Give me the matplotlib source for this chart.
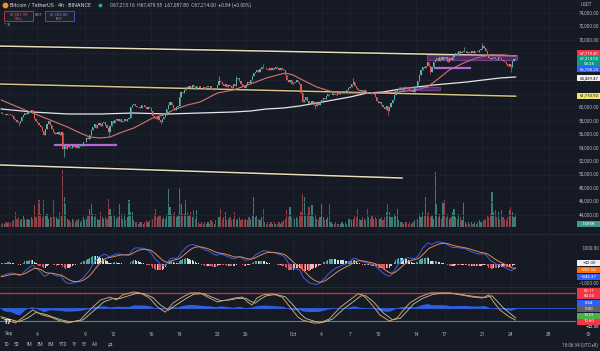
import numpy as np
import pandas as pd
import matplotlib
matplotlib.use('Agg')
import matplotlib.pyplot as plt
from matplotlib.patches import Rectangle

plt.rcParams['font.family'] = ['Roboto', 'DejaVu Sans']

# ---------------- data (BTC/USDT 4h, Aug 31 04:00 -> Oct 24 12:00, UTC+8) ----------------
first_open = 59300
closes = [
    59150, 58980, 59060, 58920, 58990,
    58950, 58800, 58650, 58300, 58050, 57750,
    57600, 57900, 58500, 58900, 59200, 59050,
    59250, 59450, 59600, 59100, 58300, 57900,
    57600, 57300, 57000, 56500, 55900, 56800,
    57500, 57900, 57400, 56800, 56300, 56100,
    56100, 56300, 55900, 56400, 53800, 54200,
    53800, 54300, 54100, 54000, 54400, 54100,
    54200, 53900, 54300, 54500, 54200, 54800,
    54900, 55400, 55300, 55900, 56600, 57100,
    57500, 56900, 57300, 57700, 57200, 57600,
    57800, 57300, 56900, 56400, 57200, 57900,
    57700, 58100, 58300, 57900, 58200, 57800,
    58000, 58200, 57900, 58300, 58400, 60100,
    60300, 60500, 60200, 60000, 60100, 59900,
    60300, 60400, 60100, 59800, 60100, 59900,
    59400, 58700, 58400, 58200, 58600, 58100,
    57800, 58200, 58500, 58900, 59700, 60400,
    60800, 60300, 59900, 59600, 60000, 60200,
    61600, 62300, 62100, 62500, 63000, 62900,
    63200, 62900, 63300, 63000, 62700, 63200,
    63100, 62800, 62900, 63000, 62700, 63000,
    63200, 63100, 62800, 62600, 62900, 62700,
    63300, 63900, 63700, 63500, 63200, 63400,
    63000, 63300, 63100, 62900, 63400, 63200,
    64200, 64400, 63900, 63500, 63100, 62800,
    63300, 63800, 63600, 64000, 64700, 65100,
    65300, 65500, 65200, 65700, 66000, 65800,
    65900, 65700, 65600, 65800, 65500, 65900,
    65700, 66000, 65800, 65600, 65900, 65700,
    65500, 64800, 64000, 63700, 64000, 63500,
    63600, 63800, 64100, 63700, 63500, 62100,
    60800, 61100, 61600, 61000, 60500, 60700,
    60900, 60400, 60200, 60600, 60300, 60800,
    61100, 61400, 61200, 61700, 62000, 61800,
    61900, 62100, 62000, 61900, 62200, 62000,
    62100, 62300, 62400, 62200, 62500, 62800,
    63000, 63400, 63700, 63200, 62800, 62500,
    62400, 62500, 62200, 62600, 62300, 62100,
    62300, 62200, 62000, 62100, 61600, 61000,
    60600, 60800, 60300, 60100, 59800, 60200,
    59400, 60000, 60700, 61100, 61900, 62400,
    62500, 62700, 62900, 62600, 62800, 63000,
    62900, 62700, 62400, 62600, 62300, 62800,
    63200, 63900, 64800, 65600, 66000, 65800,
    66200, 66800, 66100, 65200, 66000, 66700,
    67100, 67300, 66900, 67400, 67100, 67500,
    67200, 67500, 66800, 67300, 67000, 67400,
    67700, 68100, 67800, 68300, 68000, 68200,
    68300, 68400, 68100, 68200, 68000, 68300,
    68100, 68300, 68400, 68200, 68500, 68700,
    69100, 68800, 68300, 67800, 67300, 67200,
    67300, 67500, 67200, 67000, 67400, 67300,
    67100, 66900, 66700, 66500, 66200, 66400,
    66000, 66900, 67213, 67214,
]
volumes_k = [
    2, 2.5, 2, 3, 2.5,
    3, 2.5, 3.5, 4, 9, 5,
    6, 4, 5, 7, 5, 4,
    5, 4, 6, 5, 13, 6,
    7, 16, 8, 6, 16, 7,
    8, 5, 6, 6, 16, 6,
    6, 5, 9, 7, 34, 18,
    14, 5, 4, 3, 5, 4,
    3, 4, 5, 3, 4, 6,
    4, 5, 7, 11, 14, 8,
    6, 8, 5, 4, 9, 6,
    5, 6, 5, 17, 11, 7,
    11, 7, 5, 6, 14, 8,
    5, 8, 4, 6, 16, 9,
    9, 4, 3, 3, 2, 3,
    3, 2, 3, 4, 3, 4,
    7, 5, 8, 11, 6, 7,
    7, 5, 6, 5, 8, 23,
    12, 8, 8, 9, 6, 7,
    23, 14, 8, 8, 16, 9,
    7, 9, 6, 10, 5, 10,
    3, 2, 3, 2, 3, 2,
    3, 2, 4, 3, 2, 4,
    5, 6, 11, 5, 6, 9,
    4, 5, 6, 4, 5, 9,
    4, 5, 6, 4, 5, 4,
    5, 4, 6, 5, 7, 18,
    6, 7, 5, 4, 6, 11,
    3, 2, 3, 2, 3, 2,
    3, 2, 2, 3, 2, 3,
    4, 5, 10, 6, 12, 6,
    8, 5, 6, 5, 7, 9,
    20, 18, 7, 8, 12, 7,
    13, 6, 8, 5, 4, 6,
    14, 6, 4, 5, 6, 14,
    3, 2, 2, 3, 2, 2,
    2, 3, 2, 3, 2, 5,
    5, 4, 5, 7, 6, 11,
    5, 4, 6, 5, 4, 11,
    6, 5, 7, 5, 6, 5,
    8, 5, 6, 4, 6, 9,
    14, 9, 6, 6, 8, 7,
    11, 4, 3, 3, 2, 3,
    3, 2, 3, 2, 3, 4,
    4, 5, 8, 6, 9, 7,
    18, 8, 9, 6, 7, 5,
    33, 14, 6, 8, 5, 15,
    16, 6, 8, 5, 6, 9,
    11, 6, 5, 8, 6, 4,
    15, 3, 2, 3, 2, 3,
    2, 3, 2, 3, 4, 3,
    3, 4, 5, 7, 6, 8,
    21, 9, 10, 6, 9, 5,
    10, 6, 5, 4, 6, 10,
    12, 9, 6, 7.7,
]
wick_high = {138: 64700, 149: 64700, 166: 66500, 223: 64400, 293: 68900, 305: 69500}
wick_low = {11: 57200, 40: 52550, 68: 55600, 101: 57500, 199: 59800, 245: 58900,
            272: 64900, 323: 65260}

# moving averages (candle index, price)
ma_red_idx = [0, 12, 20, 31, 42, 50, 56, 63, 69, 75, 84, 90, 96, 103, 109, 118, 126, 137,
              147, 158, 168, 180, 185, 191, 200, 208, 217, 227, 242, 251, 263, 270, 276,
              284, 293, 301, 310, 318, 326]
ma_red_val = [61084, 59895, 59152, 58112, 57072, 56180, 55586, 55437, 55586, 56180, 56923,
              57666, 58409, 58855, 59598, 60341, 60787, 62124, 62570, 63462, 64353, 65096,
              64799, 64056, 63016, 62421, 62124, 62124, 62124, 62273, 62570, 63016, 64056,
              65542, 66582, 67325, 67771, 67771, 67622]
ma_white_idx = [0, 20, 42, 63, 84, 105, 126, 147, 158, 168, 179, 189, 200, 221, 232, 242,
                253, 274, 295, 316, 326]
ma_white_val = [59747, 59301, 59004, 59004, 59152, 59004, 59152, 59301, 59449, 59747, 59895,
                60192, 60638, 61530, 62124, 62273, 62719, 63313, 63759, 64353, 64502]

# stochastic lines (candle index, value 0-100)
stoch_k_idx = [0, 4, 9, 15, 20, 26, 31, 36, 42, 50, 58, 63, 69, 73, 77, 84, 88, 94, 99, 104,
               109, 115, 120, 126, 132, 137, 143, 148, 153, 156, 159, 162, 166, 172, 178, 183,
               188, 191, 198, 202, 208, 215, 221, 226, 229, 234, 240, 246, 251, 255, 259, 265,
               272, 278, 284, 291, 299, 305, 309, 312, 316, 322, 326]
stoch_k_val = [16, 9, 0, 22, 41, 25, 19, 9, 0, 9, 50, 72, 81, 72, 88, 97, 94, 78, 50, 34,
               63, 81, 94, 94, 78, 66, 72, 78, 81, 66, 56, 78, 88, 91, 81, 50, 19, 9, 0, 0,
               13, 50, 72, 91, 88, 63, 25, 6, 16, 41, 63, 81, 94, 94, 94, 88, 81, 78, 88, 66,
               41, 19, 9]
stoch_d_idx = [0, 5, 11, 17, 22, 28, 33, 38, 44, 52, 60, 65, 71, 75, 80, 86, 90, 96, 101,
               106, 111, 117, 122, 128, 134, 139, 145, 150, 155, 158, 161, 164, 168, 174, 180,
               185, 190, 193, 200, 204, 210, 217, 223, 228, 231, 236, 242, 248, 253, 257, 261,
               267, 274, 280, 286, 293, 301, 307, 311, 314, 318, 324, 326]
stoch_d_val = [20, 12, 4, 16, 33, 27, 18, 10, 3, 10, 44, 66, 77, 76, 84, 93, 92, 80, 56, 40,
               57, 76, 90, 92, 80, 70, 72, 77, 77, 68, 62, 74, 85, 89, 82, 56, 27, 14, 3, 2,
               12, 44, 66, 85, 85, 66, 32, 10, 15, 36, 58, 77, 90, 93, 93, 88, 82, 80, 85, 70,
               48, 24, 16]

# drawn trend lines (start idx, start price, end idx, end price)
trend_lines = [(-1, 69100, 326, 67650), (-1, 63460, 326, 61650), (-1, 51430, 254, 49490)]
zone_lines = [(34, 73, 54400), (275, 297, 65840)]
zone_boxes = [(270, 327, 67030, 67770), (252, 278, 62570, 63020)]

price_ticks = list(range(44000, 74001, 2000))
date_labels = ['Sep', '4', '9', '12', '16', '19', '23', '26', 'Oct', '4', '7', '10',
               '14', '17', '21', '24', '28']
date_day_offsets = [0, 3, 8, 11, 15, 18, 22, 25, 30, 33, 36, 39, 43, 46, 50, 53, 57]

macd_seed_fast, macd_seed_slow, macd_seed_signal = 59300, 60000, -720

# ---------------- derived ----------------
closes = np.array(closes, float)
n = len(closes)
idx = np.arange(n)
opens = np.concatenate([[first_open], closes[:-1]])
highs = np.maximum(opens, closes)
lows = np.minimum(opens, closes)
for k, v in wick_high.items():
    highs[k] = v
for k, v in wick_low.items():
    lows[k] = v
up = closes >= opens


def ema(vals, span, seed):
    a = 2.0 / (span + 1)
    out = np.empty(len(vals))
    e = seed
    for i, v in enumerate(vals):
        e = e + a * (v - e)
        out[i] = e
    return out


macd = ema(closes, 12, macd_seed_fast) - ema(closes, 26, macd_seed_slow)
signal = ema(macd, 9, macd_seed_signal)
hist = macd - signal

s = pd.Series(closes)
d = s.diff().fillna(0)
g = d.clip(lower=0).ewm(alpha=1 / 14, adjust=False).mean()
l_ = (-d).clip(lower=0).ewm(alpha=1 / 14, adjust=False).mean()
rsi = (100 - 100 / (1 + g / l_.replace(0, np.nan))).fillna(50)
mom = ((rsi - 50).ewm(span=6, adjust=False).mean() * 0.55).values

# ---------------- figure ----------------
BG = '#161a25'
GRID = '#1f2330'
TXT = '#b2b5be'
UPC, DNC = '#5ab4aa', '#e05a5e'
W, H = 600, 351
fig = plt.figure(figsize=(6.0, 3.51), dpi=100)
fig.patch.set_facecolor(BG)


def fax(x0, y0, x1, y1):
    a = fig.add_axes([x0 / W, 1 - y1 / H, (x1 - x0) / W, (y1 - y0) / H])
    a.set_facecolor('none')
    a.set_xlim(-0.76, 364.26)
    for sp in a.spines.values():
        sp.set_visible(False)
    a.set_xticks([])
    a.set_yticks([])
    return a


ax_v = fax(0, 157, 576, 227)
ax_p = fax(0, 0, 576, 233)
ax_m = fax(0, 234, 576, 286)
ax_s = fax(0, 287, 576, 325)
ax_p.set_ylim(41320, 75944)
ax_v.set_ylim(0, 41.8)
ax_m.set_ylim(-1222, 1667)
ax_s.set_ylim(-6.25, 112.5)

tick_idx = [5 + 6 * o for o in date_day_offsets]

# grid
for a in (ax_p, ax_m, ax_s):
    for t in tick_idx:
        a.axvline(t, color=GRID, lw=0.6, zorder=0)
for p in price_ticks:
    ax_p.axhline(p, color=GRID, lw=0.6, zorder=0)
for v in (1000, 0, -1000):
    ax_m.axhline(v, color=GRID, lw=0.5, ls=(0, (1, 3)), zorder=0)

# volume
vcol = ['#3b7c77' if u else '#8e3f46' for u in up]
ax_v.bar(idx, volumes_k, width=0.75, color=vcol, linewidth=0)

# trend lines
tl_cols = ['#e8dfba', '#d6c487', '#e8dfba']
for (i0, p0, i1, p1), c in zip(trend_lines, tl_cols):
    ax_p.plot([i0, i1], [p0, p1], color='#0b0d12', lw=2.2, zorder=2, solid_capstyle='butt')
    ax_p.plot([i0, i1], [p0, p1], color=c, lw=1.1, zorder=3)

# moving averages
ax_p.plot(ma_white_idx, ma_white_val, color='#e6e6e6', lw=0.9, zorder=4)
ax_p.plot(ma_red_idx, ma_red_val, color='#d2776a', lw=0.8, zorder=4)

# zones
for i0, i1, p in zone_lines:
    ax_p.plot([i0, i1], [p, p], color='#b167d6', lw=1.6, zorder=5)
for i0, i1, plo, phi in zone_boxes:
    ax_p.add_patch(Rectangle((i0, plo), i1 - i0, phi - plo, facecolor='#8e3aa8', alpha=0.45,
                             edgecolor='#b167d6', lw=0.9, zorder=5))

# candles
ccol = np.where(up, UPC, DNC)
ax_p.vlines(idx, lows, highs, colors=ccol, lw=0.5, zorder=6)
body = np.maximum(np.abs(closes - opens), 40)
ax_p.bar(idx, body, bottom=np.minimum(opens, closes), width=0.75, color=ccol, linewidth=0,
         zorder=7)

# MACD
hcol = []
for i, h in enumerate(hist):
    prev = hist[i - 1] if i else h
    if h >= 0:
        hcol.append('#4fa79e' if h >= prev else '#c6e6e0')
    else:
        hcol.append('#e0565b' if h < prev else '#f2b8bc')
ax_m.bar(idx, hist, width=0.75, color=hcol, linewidth=0, zorder=2)
ax_m.plot(idx, macd, color='#3d62e0', lw=0.7, zorder=3)
ax_m.plot(idx, signal, color='#e08a55', lw=0.7, zorder=3)

# Stoch
ax_s.axhline(93.75, color='#b33a40', lw=1.0, zorder=1)
ax_s.axhline(6.25, color='#4c9a4f', lw=0.8, zorder=1)
ax_s.axhline(46.9, color='#2f5fe0', lw=0.6, zorder=1)
ax_s.fill_between(idx, 46.9, 46.9 + mom, color='#2f5fe0', lw=0, zorder=2)
ax_s.plot(stoch_d_idx, stoch_d_val, color='#b9cfa0', lw=0.6, zorder=3)
ax_s.plot(stoch_k_idx, stoch_k_val, color='#d59a6a', lw=0.7, zorder=3)

# ---------------- overlay (pixel coords) ----------------
ax_o = fig.add_axes([0, 0, 1, 1])
ax_o.set_xlim(0, W)
ax_o.set_ylim(H, 0)
ax_o.axis('off')
ax_o.set_zorder(10)
ax_o.patch.set_alpha(0)
fig.canvas.draw()


def ypx(a, v):
    return H - a.transData.transform((0, v))[1]


def xpx(a, i):
    return a.transData.transform((i, 0))[0]


# pane separators
for y in (233.5, 286.5):
    ax_o.plot([0, W], [y, y], color='#262a36', lw=0.8)

price_tags = [(53, '67,719.41', '#f23645', 'white'), (58.5, '67,214.00', '#089981', 'white'),
              (63.8, '53:25', '#089981', 'white'), (69.2, '66,758.25', '#2962ff', 'white'),
              (78, '64,439.47', '#f0f0f0', '#131722'), (95.5, '61,710.92', '#f2e46a', '#131722'),
              (224, '7.695K', '#3b9a8f', 'white')]

# price axis labels (hidden under tags like the original)
for p in price_ticks:
    y = ypx(ax_p, p)
    if any(abs(y - t[0]) < 5.5 for t in price_tags):
        continue
    ax_o.text(599, y, f'{p:,.2f}', ha='right', va='center', fontsize=3.4, color=TXT)
ax_o.text(586, 5, 'USDT', ha='center', va='center', fontsize=3.3, color=TXT)
ax_o.text(599, 248, '1,000.00', ha='right', va='center', fontsize=3.4, color=TXT)
ax_o.text(599, 283, '\u22121,000.00', ha='right', va='center', fontsize=3.4, color=TXT)

# date labels
for lab, t in zip(date_labels, tick_idx):
    ax_o.text(xpx(ax_p, t), 334, lab, ha='center', va='center', fontsize=3.5, color=TXT)


def tag(y, txt, fc, tc='white', x0=577, x1=600):
    ax_o.add_patch(Rectangle((x0, y - 3), x1 - x0, 6, facecolor=fc, edgecolor='none', zorder=20))
    ax_o.text((x0 + x1) / 2 + 0.5, y, txt, ha='center', va='center', fontsize=3.2, color=tc,
              zorder=21)


for t in price_tags:
    tag(*t)
tag(263, '\u221242.00', '#f0f0f0', '#131722')
tag(270, '\u2212201.56', '#ff6d00')
tag(277, '\u2212245.37', '#2962ff')
tag(290.5, '82.11', '#f23645')
tag(296, '80.00', '#f23645')
tag(302.5, '8.64', '#2962ff')
tag(309, '0.00', '#5d606b')
tag(315.5, '10.01', '#4caf50')
tag(321.5, '10.60', '#f23645')
ax_o.text(599, 327.5, '\u221242.30', ha='right', va='center', fontsize=3.2, color='white', zorder=21)

# header
ax_o.scatter([5], [5], s=10, color='#f7931a', zorder=20)
ax_o.text(10, 5, 'Bitcoin / TetherUS \u00b7 4h \u00b7 BINANCE', ha='left', va='center',
          fontsize=3.9, color='#d1d4dc')
ax_o.scatter([100], [5], s=3, color='#22ab94', zorder=20)
ax_o.text(110, 5, 'O67,213.16  H67,479.55  L67,087.80  C67,214.00  +0.84 (+0.00%)',
          ha='left', va='center', fontsize=3.5, color='#b8c4c2')
ax_o.add_patch(Rectangle((4, 10.5), 29, 10.5, facecolor='#1d1f2b', edgecolor='#c23a43', lw=0.6))
ax_o.text(18.5, 14, '67,201.99', ha='center', va='center', fontsize=3.0, color='#f0606a')
ax_o.text(18.5, 18.5, 'SELL', ha='center', va='center', fontsize=2.6, color='#f0606a')
ax_o.text(39, 15.5, '0.01', ha='center', va='center', fontsize=2.8, color=TXT)
ax_o.add_patch(Rectangle((45, 10.5), 29, 10.5, facecolor='#1d1f2b', edgecolor='#3a5fd0', lw=0.6))
ax_o.text(59.5, 14, '67,202.00', ha='center', va='center', fontsize=3.0, color='#6e93f0')
ax_o.text(59.5, 18.5, 'BUY', ha='center', va='center', fontsize=2.6, color='#6e93f0')
ax_o.text(4, 25.5, '\u02c5 3', ha='left', va='center', fontsize=3.2, color='#d1d4dc')

# footer
ax_o.text(3, 321.5, '17', ha='left', va='center', fontsize=5, color='white', fontweight='bold',
          zorder=21)
for lab, x in zip(['1D', '5D', '1M', '3M', '6M', 'YTD', '1Y', '5Y', 'All'],
                  [6, 17, 29, 40, 51, 62.5, 74.5, 84.5, 94.5]):
    ax_o.text(x, 345, lab, ha='center', va='center', fontsize=3.3, color=TXT)
ax_o.text(110, 345, '\u21c4', ha='center', va='center', fontsize=4, color=TXT)
ax_o.text(598, 345, '15:06:34 (UTC+8)', ha='right', va='center', fontsize=3.3, color=TXT)
ax_o.text(588, 334, '\u2699', ha='center', va='center', fontsize=4, color=TXT)

fig.savefig('out.png', dpi=100, facecolor=BG)
